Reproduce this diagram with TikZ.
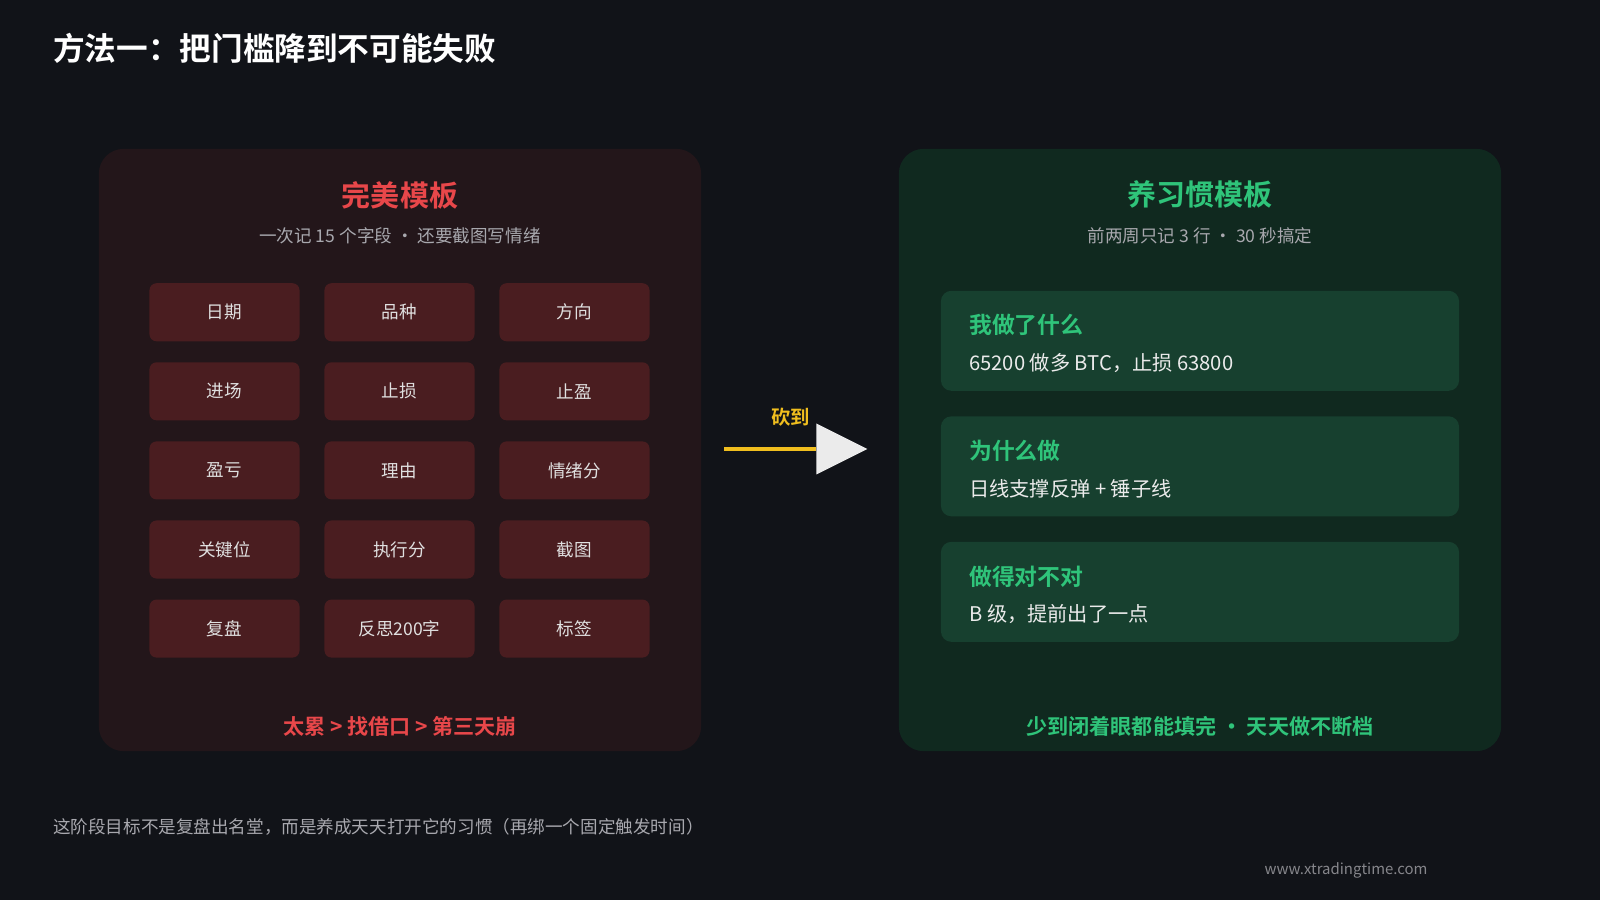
\documentclass[tikz,border=0pt]{standalone}
\usepackage{fontspec}
\setmainfont{Noto Sans CJK SC}[BoldFont={Noto Sans CJK SC Bold}]
\usetikzlibrary{positioning}
\definecolor{bg}{HTML}{111318}
\definecolor{redpanel}{HTML}{23161A}
\definecolor{redcell}{HTML}{4A1D20}
\definecolor{redtxt}{HTML}{E8474A}
\definecolor{greenpanel}{HTML}{10291F}
\definecolor{greencell}{HTML}{17402F}
\definecolor{greentxt}{HTML}{2FC47A}
\definecolor{greytxt}{HTML}{A8A8AE}
\definecolor{arrowy}{HTML}{F0BE1E}
\tikzset{
  panel/.style={draw=none, rounded corners=14pt, minimum width=12.04cm, minimum height=12.04cm},
  cell/.style={fill=redcell, rounded corners=4pt, minimum width=3.0cm, minimum height=1.16cm,
    text=white!88!black, font=\fontsize{10}{12}\selectfont},
  card/.style={fill=greencell, rounded corners=6pt, minimum width=10.36cm, minimum height=2.0cm},
}
\begin{document}
\begin{tikzpicture}[x=0.0204cm, y=-0.0204cm]
  \fill[bg] (0,0) rectangle (1568,882);
  \useasboundingbox (0,0) rectangle (1568,882);
  \node[anchor=west, text=white, font=\fontsize{18}{21}\selectfont\bfseries] (title) at (46,47) {方法一：把门槛降到不可能失败};
  % left panel
  \node[panel, fill=redpanel] (lpanel) at (392,441) {};
  \node[text=redtxt, font=\fontsize{16.5}{19}\selectfont\bfseries] (ltitle) at (392,191) {完美模板};
  \node[text=greytxt, font=\fontsize{10}{12}\selectfont] (lsub) at (392,231) {一次记 15 个字段 · 还要截图写情绪};
  \foreach \txt [count=\i from 0] in {日期,品种,方向,进场,止损,止盈,盈亏,理由,情绪分,关键位,执行分,截图,复盘,反思200字,标签}{
    \pgfmathtruncatemacro{\c}{mod(\i,3)}
    \pgfmathtruncatemacro{\r}{div(\i,3)}
    \node[cell] (c\i) at ({220+171.5*\c},{306+77.5*\r}) {\txt};
  }
  \node[text=redtxt, font=\fontsize{12}{14}\selectfont\bfseries] (lfoot) at (392,712) {太累 > 找借口 > 第三天崩};
  % right panel
  \node[panel, fill=greenpanel] (rpanel) at (1176,441) {};
  \node[text=greentxt, font=\fontsize{16.5}{19}\selectfont\bfseries] (rtitle) at (1176,191) {养习惯模板};
  \node[text=greytxt, font=\fontsize{10}{12}\selectfont] (rsub) at (1176,231) {前两周只记 3 行 · 30 秒搞定};
  \foreach \head/\body [count=\i from 0] in {我做了什么/{65200 做多 BTC，止损 63800},为什么做/{日线支撑反弹 + 锤子线},做得对不对/{B 级，提前出了一点}}{
    \node[card] (k\i) at (1176,{334+123*\i}) {};
    \node[anchor=west, text=greentxt, font=\fontsize{13}{15}\selectfont\bfseries] (kh\i) at ([xshift=0.45cm, yshift=0.31cm]k\i.west) {\head};
    \node[anchor=west, text=white!92!black, font=\fontsize{11.5}{13}\selectfont] (kb\i) at ([xshift=0.45cm, yshift=-0.45cm]k\i.west) {\body};
  }
  \node[text=greentxt, font=\fontsize{12}{14}\selectfont\bfseries] (rfoot) at (1176,712) {少到闭着眼都能填完 · 天天做不断档};
  % arrow
  \coordinate (astart) at (710,440);
  \coordinate (atip) at (800,440);
  \draw[arrowy, line width=2.2pt] (astart) -- (atip);
  \fill[white!92!black] (800,415) -- (850,440) -- (800,465) -- cycle;
  \node[text=arrowy, font=\fontsize{11}{13}\selectfont\bfseries] (alabel) at (775,409) {砍到};
  % footer
  \node[anchor=west, text=greytxt, font=\fontsize{10}{12}\selectfont] (note) at (46,810) {这阶段目标不是复盘出名堂，而是养成天天打开它的习惯（再绑一个固定触发时间）};
  \node[anchor=east, text=greytxt!80!black, font=\fontsize{8.5}{10}\selectfont] (url) at (1405,853) {www.xtradingtime.com};
\end{tikzpicture}
\end{document}
